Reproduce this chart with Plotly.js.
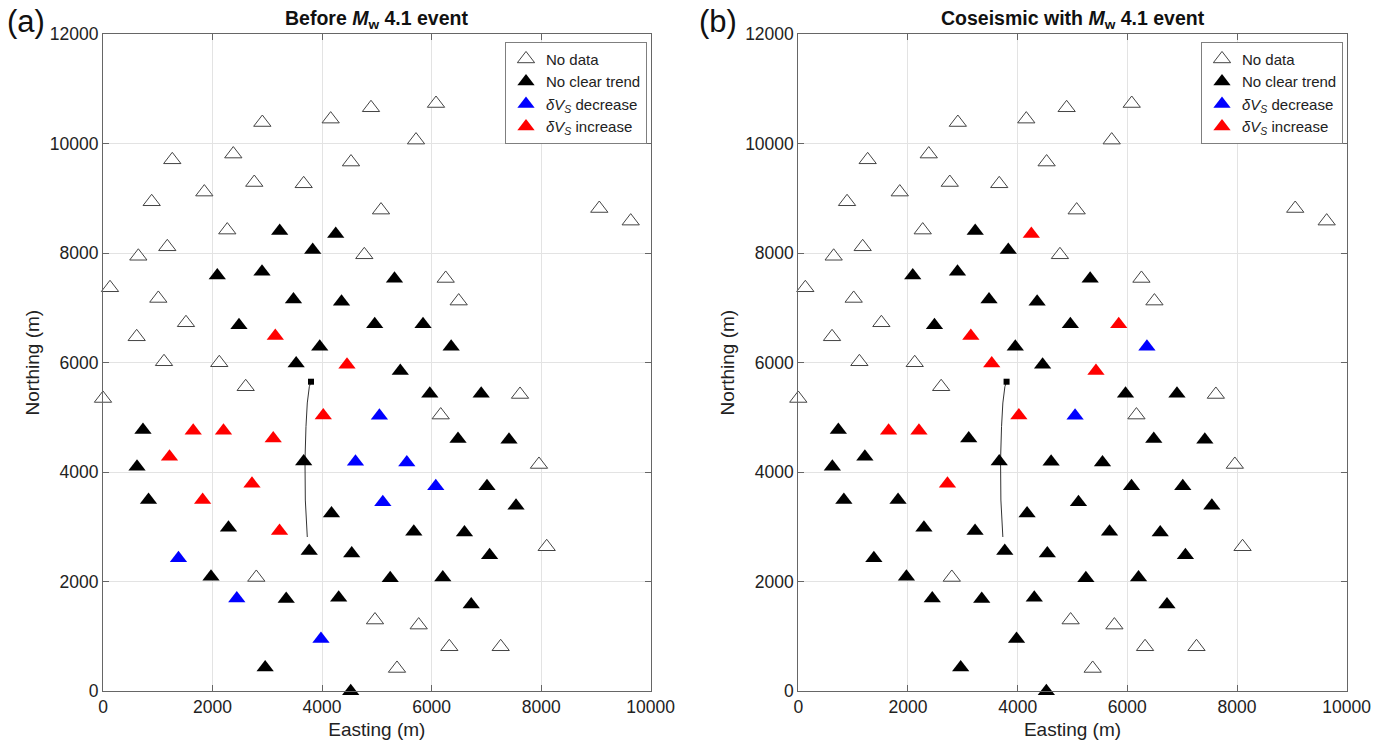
<!DOCTYPE html>
<html>
<head>
<meta charset="utf-8">
<script src="https://cdn.plot.ly/plotly-3.0.1.min.js"></script>
<style>html,body{margin:0;padding:0;background:#fff;}#chart{width:1387px;height:744px;}</style>
</head>
<body>
<div id="chart"></div>
<script>
// ---- Data (metres) ----
// Stations without data (same in both panels)
const noDataEasting  = [2909,4157,4893,6080,1265,2379,4528,5715,1850,2762,3664,889,5076,2269,1174,645,4771,6257,6494,128,1010,1515,615,1114,2123,2605,0,6166,7614,7960,9061,9635,8101,2799,4966,5764,6323,7261,5368];
const noDataNorthing = [10384,10446,10653,10731,9703,9808,9662,10063,9114,9289,9265,8937,8785,8420,8115,7942,7969,7537,7124,7367,7172,6728,6472,6016,5998,5560,5346,5043,5419,4141,8814,8584,2639,2078,1301,1209,813,813,417];

// Stations with data
const activeEasting  = [3226,4249,3829,2087,2903,5322,3478,4355,2483,4961,5843,3957,6357,3146,3527,4455,5428,5967,6905,4022,5047,730,1647,2200,3108,6482,7413,1214,621,3664,4610,5547,2720,6076,7011,831,1819,5109,7541,4172,2291,3223,5675,6600,1378,3765,4541,7059,1972,5244,6204,2443,3345,4303,6723,3980,2961,4523];
const activeNorthing = [8402,8347,8055,7591,7659,7531,7153,7111,6682,6701,6701,6290,6290,6485,5985,5961,5848,5432,5432,5036,5030,4769,4756,4756,4616,4605,4592,4282,4099,4196,4190,4178,3789,3743,3743,3491,3491,3451,3387,3247,2986,2925,2913,2900,2429,2560,2515,2484,2091,2064,2078,1695,1684,1708,1585,954,435,0];
// K = no clear trend, D = dVs decrease, I = dVs increase
const statusBefore = ['K','K','K','K','K','K','K','K','K','K','K','K','K','I','K','I','K','K','K','I','D','K','I','I','I','K','K','I','K','K','D','D','I','D','K','K','I','D','K','K','K','I','K','K','D','K','K','K','K','K','K','D','K','K','K','D','K','K'];
const statusCoseismic = ['K','I','K','K','K','K','K','K','K','K','I','K','D','I','I','K','I','K','K','I','D','K','I','I','K','K','K','K','K','K','K','K','I','K','K','K','K','K','K','K','K','K','K','K','K','K','K','K','K','K','K','K','K','K','K','K','K','K'];

// Well trajectory and wellhead
const wellEasting  = [3798,3767,3730,3706,3688,3694,3730];
const wellNorthing = [5652,5561,5264,4832,4222,3492,2817];

const xTicks = [0,2000,4000,6000,8000,10000];
const yTicks = [0,2000,4000,6000,8000,10000,12000];

const panelTitles = ['<b>Before <i>M</i><sub>w</sub> 4.1 event</b>', '<b>Coseismic with <i>M</i><sub>w</sub> 4.1 event</b>'];
const panelLabels = ['(a)', '(b)'];
const categoryNames = {K:'No clear trend', D:'<i>δV<sub>S</sub></i> decrease', I:'<i>δV<sub>S</sub></i> increase'};
const categoryColors = {K:'#000000', D:'#0000ff', I:'#ff0000'};

// ---- Build traces ----
const FONT = 'Liberation Sans, Arial, Helvetica, sans-serif';
const MS = 15;
const traces = [];
[statusBefore, statusCoseismic].forEach(function(status, p) {
  const xa = p === 0 ? 'x' : 'x2';
  const ya = p === 0 ? 'y' : 'y2';
  const lg = p === 0 ? 'legend' : 'legend2';
  traces.push({
    type:'scatter', mode:'lines', x:wellEasting, y:wellNorthing, xaxis:xa, yaxis:ya,
    line:{color:'#333', width:1}, showlegend:false, hoverinfo:'skip', cliponaxis:false
  });
  traces.push({
    type:'scatter', mode:'markers', x:[wellEasting[0]], y:[wellNorthing[0]], xaxis:xa, yaxis:ya,
    marker:{symbol:'square', size:6, color:'#000'}, showlegend:false, hoverinfo:'skip', cliponaxis:false
  });
  traces.push({
    type:'scatter', mode:'markers', name:'No data', legend:lg,
    x:noDataEasting, y:noDataNorthing, xaxis:xa, yaxis:ya, cliponaxis:false,
    marker:{symbol:'triangle-up', size:MS, color:'#ffffff', line:{color:'#444', width:1}}
  });
  ['K','D','I'].forEach(function(code) {
    const xs = [], ys = [];
    status.forEach(function(s, i) { if (s === code) { xs.push(activeEasting[i]); ys.push(activeNorthing[i]); } });
    traces.push({
      type:'scatter', mode:'markers', name:categoryNames[code], legend:lg,
      x:xs, y:ys, xaxis:xa, yaxis:ya, cliponaxis:false,
      marker:{symbol:'triangle-up', size:MS, color:categoryColors[code], line:{width:0}}
    });
  });
});

// ---- Layout ----
const W = 1387, H = 744;
const yDom = [1 - 691.3/H, 1 - 34/H];
function xAxis(dom, anchor) {
  return {
    domain:dom, anchor:anchor, range:[0,10000], tickvals:xTicks, ticktext:xTicks.map(String),
    ticks:'inside', ticklen:6, tickcolor:'#666', showline:true, linecolor:'#666', linewidth:1, mirror:'ticks',
    showgrid:true, gridcolor:'#e3e3e3', zeroline:false, tickfont:{family:FONT, size:17.5, color:'#222'},
    title:{text:'Easting (m)', font:{family:FONT, size:19, color:'#222'}, standoff:6}
  };
}
function yAxis(anchor) {
  return {
    domain:yDom, anchor:anchor, range:[0,12000], tickvals:yTicks, ticktext:yTicks.map(String),
    ticks:'inside', ticklen:6, tickcolor:'#666', showline:true, linecolor:'#666', linewidth:1, mirror:'ticks',
    showgrid:true, gridcolor:'#e3e3e3', zeroline:false, tickfont:{family:FONT, size:17.5, color:'#222'},
    title:{text:'Northing (m)', font:{family:FONT, size:19, color:'#222'}, standoff:5}
  };
}
const xDomA = [103/W, 650.7/W];
const xDomB = [798.3/W, 1346.7/W];
function legendAt(px) {
  return {
    x:px/W, y:1 - 41.7/H, xanchor:'left', yanchor:'top', bgcolor:'#fff', bordercolor:'#7f7f7f', borderwidth:1,
    font:{family:FONT, size:15, color:'#222'}, tracegroupgap:0, itemsizing:'trace', itemwidth:30
  };
}
const layout = {
  width:W, height:H, margin:{l:0, r:0, t:0, b:0}, paper_bgcolor:'#fff', plot_bgcolor:'#fff',
  font:{family:FONT, color:'#222'}, hovermode:false, showlegend:true,
  xaxis:xAxis(xDomA, 'y'), yaxis:yAxis('x'),
  xaxis2:xAxis(xDomB, 'y2'), yaxis2:yAxis('x2'),
  legend:legendAt(505), legend2:legendAt(1201),
  annotations:[
    {text:panelTitles[0], xref:'paper', yref:'paper', x:(xDomA[0]+xDomA[1])/2, y:1 - 20/H, xanchor:'center', yanchor:'middle', showarrow:false, font:{family:FONT, size:19.5, color:'#111'}},
    {text:panelTitles[1], xref:'paper', yref:'paper', x:(xDomB[0]+xDomB[1])/2, y:1 - 20/H, xanchor:'center', yanchor:'middle', showarrow:false, font:{family:FONT, size:19.5, color:'#111'}},
    {text:panelLabels[0], xref:'paper', yref:'paper', x:26/W, y:1 - 22/H, xanchor:'center', yanchor:'middle', showarrow:false, font:{family:FONT, size:31, color:'#111'}},
    {text:panelLabels[1], xref:'paper', yref:'paper', x:718/W, y:1 - 22/H, xanchor:'center', yanchor:'middle', showarrow:false, font:{family:FONT, size:31, color:'#111'}}
  ]
};
Plotly.newPlot('chart', traces, layout, {displayModeBar:false, staticPlot:true});
</script>
</body>
</html>
